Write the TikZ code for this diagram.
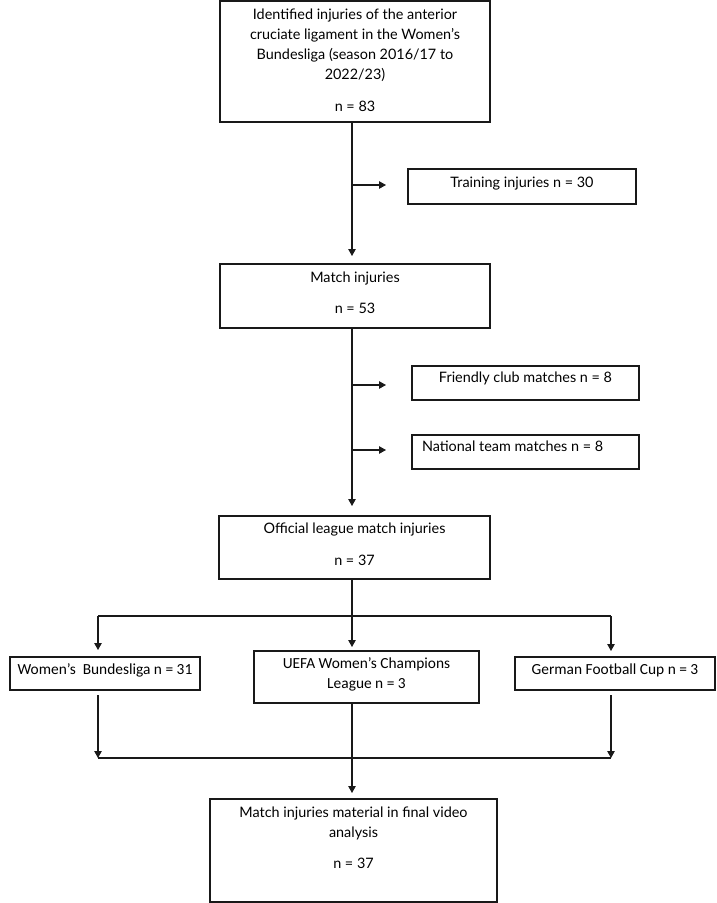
\documentclass[tikz,border=0pt]{standalone}
\usepackage{fontspec}
\setmainfont{Lato}
\newfontfamily\carl{Carlito}
\usetikzlibrary{arrows.meta}
% width, height, first-baseline, content (centred, top aligned)
\newcommand{\boxtxt}[4]{\parbox[c][#2][t]{#1}{\centering\rule{0pt}{#3}#4}}
% left aligned version with left padding
\newcommand{\boxtxtl}[5]{\parbox[c][#2][t]{#1}{\raggedright\hspace*{#4}\rule{0pt}{#3}#5}}
\tikzset{
  fbox/.style={draw=black!90, line width=1.1pt, inner sep=0pt, outer sep=0pt,
    font=\fontsize{14.4}{20}\selectfont},
  cbox/.style={fbox, font=\carl\fontsize{15.4}{20}\selectfont},
  conn/.style={line width=1.1pt, draw=black!90},
  arr/.style={conn, -{Triangle[length=7pt,width=7.5pt]}}
}
\begin{document}
\begin{tikzpicture}[x=1pt,y=-1pt]
\useasboundingbox (0,0) rectangle (716,903);
\fill[white] (0,0) rectangle (716,903);

% boxes
\node[fbox] (top) at (355,61.5) {\boxtxt{270pt}{121pt}{18pt}{Identified injuries of the anterior\\cruciate ligament in the Women’s\\Bundesliga (season 2016/17 to\\2022/23)\\[12pt]n = 83}};
\node[fbox] (train) at (522,186.5) {\boxtxt{228pt}{35pt}{18pt}{Training injuries n = 30}};
\node[fbox] (match) at (355,296) {\boxtxt{270pt}{64pt}{18pt}{Match injuries\\[11pt]n = 53}};
\node[fbox] (friendly) at (525.5,383) {\boxtxt{227pt}{34pt}{16.5pt}{Friendly club matches n = 8}};
\node[fbox] (national) at (525.5,452) {\boxtxtl{227pt}{34pt}{16.5pt}{10pt}{National team matches n = 8}};
\node[fbox] (official) at (354.5,547.5) {\boxtxt{271pt}{63pt}{17pt}{Official league match injuries\\[12pt]n = 37}};
\node[cbox] (wb) at (105,673.5) {\boxtxt{190pt}{33pt}{17pt}{Women’s\ \ Bundesliga n = 31}};
\node[cbox] (uefa) at (366.5,677) {\boxtxt{225pt}{52pt}{17pt}{UEFA Women’s Champions\\League n = 3}};
\node[cbox] (german) at (615,673.5) {\boxtxt{200pt}{33pt}{17pt}{German Football Cup n = 3}};
\node[fbox] (final) at (353.5,850.5) {\boxtxt{287pt}{103pt}{18pt}{Match injuries material in final video\\analysis\\[11pt]n = 37}};

% coordinates
\coordinate (sp) at (352,0);
\coordinate (b1) at (352,185);
\coordinate (b2) at (352,385);
\coordinate (b3) at (352,450);
\coordinate (bl) at (98,616);
\coordinate (bc) at (352,616);
\coordinate (brr) at (611,616);
\coordinate (ml) at (98,758);
\coordinate (mc) at (352,758);
\coordinate (mr) at (611,758);

% main spine
\draw[arr, shorten >=8pt] (top.south -| sp) -- (match.north -| sp);
\draw[arr] (b1) -- ([xshift=-22pt]train.west |- b1);
\draw[arr, shorten >=10pt] (match.south -| sp) -- (official.north -| sp);
\draw[arr] (b2) -- ([xshift=-26pt]friendly.west |- b2);
\draw[arr] (b3) -- ([xshift=-26pt]national.west |- b3);

% branching
\draw[conn] (official.south -| sp) -- (bc);
\draw[conn] (bl) -- (brr);
\draw[arr, shorten >=7pt] (bl) -- (wb.north -| bl);
\draw[arr, shorten >=4pt] (bc) -- (uefa.north -| bc);
\draw[arr, shorten >=6pt] (brr) -- (german.north -| brr);

% merging
\draw[arr, shorten <=5pt] (wb.south -| ml) -- (ml);
\draw[arr, shorten <=5pt] (german.south -| mr) -- (mr);
\draw[conn] (ml) -- (mr);
\draw[arr, shorten >=6pt] (uefa.south -| mc) -- (final.north -| mc);
\end{tikzpicture}
\end{document}
